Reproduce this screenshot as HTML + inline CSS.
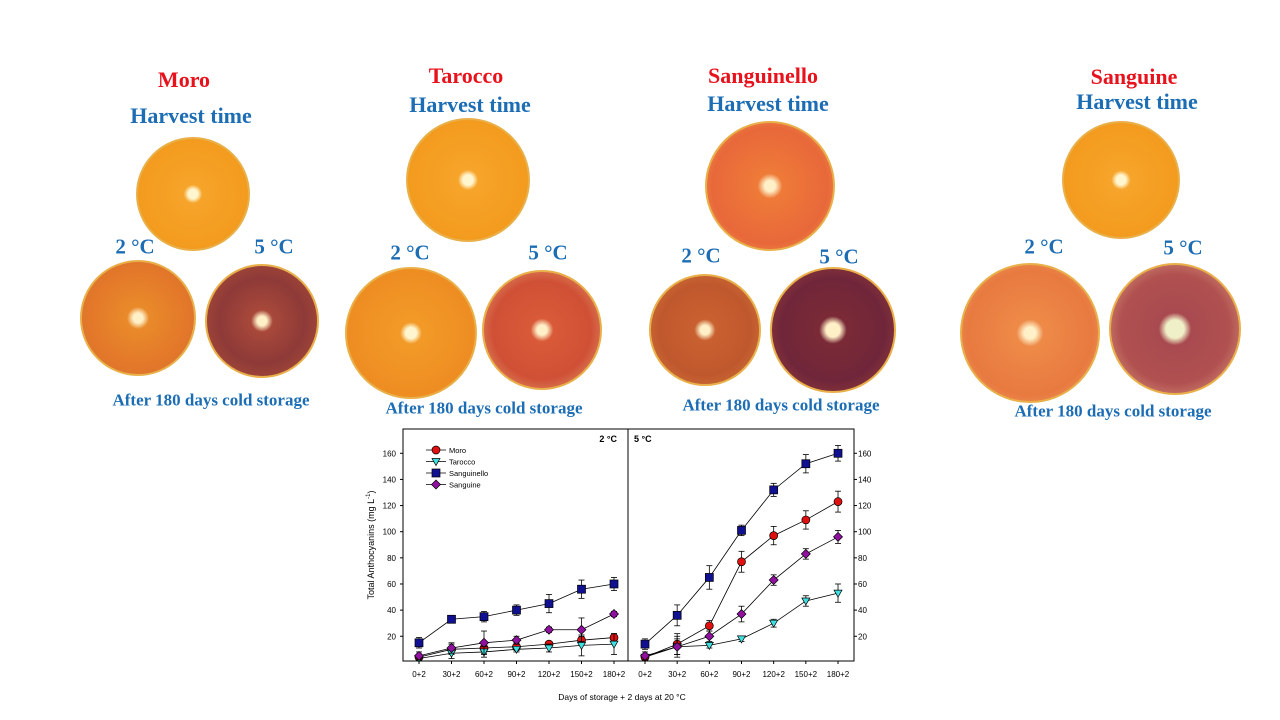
<!DOCTYPE html>
<html><head><meta charset="utf-8"><style>
body{margin:0;width:1280px;height:720px;background:#fff;position:relative;overflow:hidden;font-family:"Liberation Serif",serif}
.t{position:absolute;font-weight:bold;white-space:nowrap;transform:translate(-50%,-50%);line-height:1}
.red{color:#e8121c;font-size:22px}
.blue{color:#1c6db4;font-size:22px}
.deg{color:#1c6db4;font-size:21px}
.aft{color:#1c6db4;font-size:17px}
.f{position:absolute;border-radius:50%;box-sizing:border-box;border:2px solid #e9b04a}
.h{background:radial-gradient(circle,#fff6d0 0 6%,#f6a42a 12%,#f39b1e 70%,#f2a938 95%)}
.c2{background:radial-gradient(circle,#fff0c8 0 6%,#e98a2a 14%,#e3782a 60%,#d9722e 95%)}
.c5{background:radial-gradient(circle,#fff0c8 0 6%,#a8483a 14%,#8e3a38 55%,#b0503a 95%)}
.c2b{background:radial-gradient(circle,#fff0c8 0 6%,#c86030 14%,#c0582e 60%,#d07838 95%)}
.c5b{background:radial-gradient(circle,#fff0c8 0 8%,#7a2a36 16%,#70263a 60%,#9a4038 95%)}
</style></head><body>
<div class="t red" style="left:184px;top:80px">Moro</div>
<div class="t blue" style="left:191px;top:116px">Harvest time</div>
<div class="t deg" style="left:135px;top:247px">2 °C</div>
<div class="t deg" style="left:274px;top:247px">5 °C</div>
<div class="t aft" style="left:211px;top:400px">After 180 days cold storage</div>
<div class="f h" style="left:136px;top:137px;width:114px;height:114px"></div>
<div class="f c2" style="left:80px;top:260px;width:116px;height:116px"></div>
<div class="f c5" style="left:205px;top:264px;width:114px;height:114px"></div>

<div class="t red" style="left:466px;top:76px">Tarocco</div>
<div class="t blue" style="left:470px;top:105px">Harvest time</div>
<div class="t deg" style="left:410px;top:253px">2 °C</div>
<div class="t deg" style="left:548px;top:253px">5 °C</div>
<div class="t aft" style="left:484px;top:408px">After 180 days cold storage</div>
<div class="f h" style="left:406px;top:118px;width:124px;height:124px"></div>
<div class="f h" style="left:345px;top:267px;width:132px;height:132px;background:radial-gradient(circle,#fff6d0 0 6%,#f29a28 12%,#ee8d22 70%,#f2a938 95%)"></div>
<div class="f c2" style="left:482px;top:270px;width:120px;height:120px;background:radial-gradient(circle,#fff0c8 0 6%,#d85a38 14%,#d05036 60%,#e0a070 95%)"></div>

<div class="t red" style="left:763px;top:76px">Sanguinello</div>
<div class="t blue" style="left:768px;top:104px">Harvest time</div>
<div class="t deg" style="left:701px;top:256px">2 °C</div>
<div class="t deg" style="left:839px;top:257px">5 °C</div>
<div class="t aft" style="left:781px;top:405px">After 180 days cold storage</div>
<div class="f c2" style="left:705px;top:121px;width:130px;height:130px;background:radial-gradient(circle,#fff0c8 0 6%,#ee7a38 14%,#e8683a 65%,#f0a050 95%)"></div>
<div class="f c2b" style="left:649px;top:274px;width:112px;height:112px"></div>
<div class="f c5b" style="left:770px;top:267px;width:126px;height:126px"></div>

<div class="t red" style="left:1134px;top:77px">Sanguine</div>
<div class="t blue" style="left:1137px;top:102px">Harvest time</div>
<div class="t deg" style="left:1044px;top:247px">2 °C</div>
<div class="t deg" style="left:1183px;top:248px">5 °C</div>
<div class="t aft" style="left:1113px;top:411px">After 180 days cold storage</div>
<div class="f h" style="left:1062px;top:121px;width:118px;height:118px"></div>
<div class="f c2" style="left:960px;top:263px;width:140px;height:140px;background:radial-gradient(circle,#fff0c8 0 6%,#ee8a48 14%,#e87a40 65%,#f0a060 95%)"></div>
<div class="f c5" style="left:1109px;top:263px;width:132px;height:132px;background:radial-gradient(circle,#f0f0c8 0 10%,#a84a50 18%,#b05050 60%,#e0a080 95%)"></div>

<svg id="chart" width="1280" height="720" style="position:absolute;left:0;top:0" font-family="Liberation Sans, sans-serif"></svg>
<script>
const categories=["0+2","30+2","60+2","90+2","120+2","150+2","180+2"];
const yTicks=[20,40,60,80,100,120,140,160];
const seriesNames=["Moro","Tarocco","Sanguinello","Sanguine"];
const moro2=[4,10,11,12,14,17,19];
const tarocco2=[3,7,8,10,11,13,14];
const sanguinello2=[15,33,35,40,45,56,60];
const sanguine2=[5,11,15,17,25,25,37];
const moro5=[4,14,28,77,97,109,123];
const tarocco5=[4,12,13,18,30,47,53];
const sanguinello5=[14,36,65,101,132,152,160];
const sanguine5=[5,12,20,37,63,83,96];
const err2=[[2,4,4,3,2,3,3],[2,4,4,2,3,8,8],[4,2,4,4,7,7,5],[3,4,9,3,2,9,2]];
const err5=[[2,8,4,8,7,7,8],[2,8,2,2,3,4,7],[4,8,9,4,5,7,6],[3,6,4,6,4,4,5]];
const svg=document.getElementById('chart');
const NS='http://www.w3.org/2000/svg';
function mk(tag,attrs,parent){const e=document.createElementNS(NS,tag);for(const k in attrs)e.setAttribute(k,attrs[k]);(parent||svg).appendChild(e);return e;}
const y=v=>662.4-v*1.307;
const xL=i=>419+i*32.5;
const xR=i=>645+i*32.17;
const colors=["#e01010","#40e0e0","#101090","#9010a0"];
let e;
e=mk('rect',{x:403,y:429,width:451,height:232,fill:'none',stroke:'#000','stroke-width':1});


e=mk('line',{x1:628,y1:429,x2:628,y2:661,stroke:'#000'});


yTicks.forEach(v=>{
  e=mk('text',{x:396,y:y(v)+3,'font-size':8,'text-anchor':'end'});e.textContent=v;
  
  
  mk('line',{x1:403,y1:y(v),x2:400,y2:y(v),stroke:'#000'});
  e=mk('text',{x:858,y:y(v)+3,'font-size':8});e.textContent=v;
  
  
  mk('line',{x1:854,y1:y(v),x2:857,y2:y(v),stroke:'#000'});
});
categories.forEach((c,i)=>{
  [xL(i),xR(i)].forEach(xx=>{
    e=mk('text',{x:xx,y:677,'font-size':8,'text-anchor':'middle'});e.textContent=c;
    
    
    mk('line',{x1:xx,y1:661,x2:xx,y2:664,stroke:'#000'});
  });
});
e=mk('text',{x:622,y:700,'font-size':8.5,'text-anchor':'middle'});e.textContent='Days of storage + 2 days at 20 °C';


e=mk('text',{x:0,y:0,'font-size':9,'text-anchor':'middle',transform:'translate(374,545) rotate(-90)'});
e.innerHTML='Total Anthocyanins (mg L<tspan font-size="6" dy="-4">-1</tspan><tspan dy="4">)</tspan>';


e=mk('text',{x:617,y:442,'font-size':9,'font-weight':'bold','text-anchor':'end'});e.textContent='2 °C';


e=mk('text',{x:634,y:442,'font-size':9,'font-weight':'bold'});e.textContent='5 °C';


function marker(k,cx,cy,g){
  const c=colors[k];
  if(k===0)return mk('circle',{cx,cy,r:4,fill:c,stroke:'#000','stroke-width':0.7},g);
  if(k===1)return mk('polygon',{points:`${cx-4},${cy-3} ${cx+4},${cy-3} ${cx},${cy+4}`,fill:c,stroke:'#000','stroke-width':0.7},g);
  if(k===2)return mk('rect',{x:cx-4,y:cy-4,width:8,height:8,fill:c,stroke:'#000','stroke-width':0.7},g);
  return mk('polygon',{points:`${cx},${cy-4.5} ${cx+4.5},${cy} ${cx},${cy+4.5} ${cx-4.5},${cy}`,fill:c,stroke:'#000','stroke-width':0.7},g);
}
function drawSeries(vals,errs,k,xf,name){
  const g=mk('g',{});
  
  
  mk('polyline',{points:vals.map((v,i)=>xf(i)+','+y(v)).join(' '),fill:'none',stroke:'#000','stroke-width':0.8},g);
  vals.forEach((v,i)=>{
    const x=xf(i),t=y(v+errs[i]),b=y(Math.max(0,v-errs[i]));
    mk('line',{x1:x,y1:t,x2:x,y2:b,stroke:'#000','stroke-width':0.8},g);
    mk('line',{x1:x-3,y1:t,x2:x+3,y2:t,stroke:'#000','stroke-width':0.8},g);
    mk('line',{x1:x-3,y1:b,x2:x+3,y2:b,stroke:'#000','stroke-width':0.8},g);
  });
  vals.forEach((v,i)=>marker(k,xf(i),y(v),g));
}
const s2=[moro2,tarocco2,sanguinello2,sanguine2], s5=[moro5,tarocco5,sanguinello5,sanguine5];
s2.forEach((s,k)=>drawSeries(s,err2[k],k,xL,'series-'+seriesNames[k].toLowerCase()+'-2c'));
s5.forEach((s,k)=>drawSeries(s,err5[k],k,xR,'series-'+seriesNames[k].toLowerCase()+'-5c'));
seriesNames.forEach((n,k)=>{
  const yy=450+k*11.5;
  const g=mk('g',{});
  
  
  mk('line',{x1:426,y1:yy,x2:446,y2:yy,stroke:'#000','stroke-width':0.8},g);
  marker(k,436,yy,g);
  const t=mk('text',{x:449,y:yy+3,'font-size':7.5},g);t.textContent=n;
});
</script>
</body></html>
